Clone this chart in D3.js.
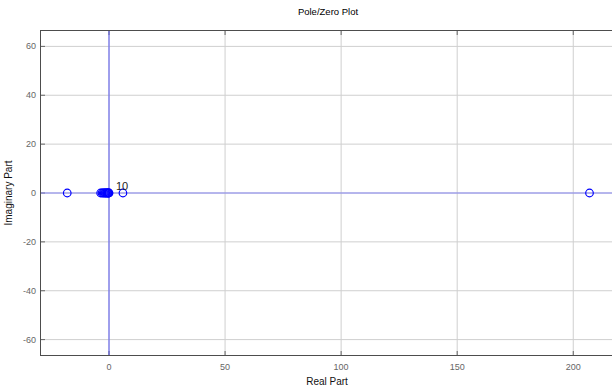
<!DOCTYPE html>
<html>
<head>
<meta charset="utf-8">
<script src="https://cdn.jsdelivr.net/npm/d3@7"></script>
<style>
  html, body { margin: 0; padding: 0; background: #fff; }
  svg { display: block; font-family: "Liberation Sans", Arial, sans-serif; }
</style>
</head>
<body>
<svg id="chart" width="612" height="388"></svg>
<script>
// Zero locations (real part; all lie on the real axis)
const zeroReal = [-18, -3.6, -3.0, -2.5, -2.1, -1.7, -1.4, -1.1, -0.8, -0.5, -0.3, -0.1, 0, 6, 207];
const zeroImag = [0, 0, 0, 0, 0, 0, 0, 0, 0, 0, 0, 0, 0, 0, 0];
// Multiplicity annotation at the origin
const multLabel = { re: 0, im: 0, text: "10" };
const xTicks = [0, 50, 100, 150, 200];
const yTicks = [-60, -40, -20, 0, 20, 40, 60];

const svg = d3.select("#chart");
const L = 41, T = 31, R = 615.5, B = 355;

const x = d3.scaleLinear().domain([-29.3, 218.2]).range([L, R]);
const y = d3.scaleLinear().domain([-66.3, 66.3]).range([B, T]);

svg.append("clipPath").attr("id", "plotclip")
  .append("rect").attr("x", L).attr("y", T).attr("width", R - L).attr("height", B - T);

// Grid
const grid = svg.append("g").attr("clip-path", "url(#plotclip)");
grid.selectAll("line.gx").data(xTicks).join("line")
  .attr("x1", d => x(d)).attr("x2", d => x(d)).attr("y1", T).attr("y2", B)
  .attr("stroke", "#cfcfcf").attr("stroke-width", 1);
grid.selectAll("line.gy").data(yTicks).join("line")
  .attr("y1", d => y(d)).attr("y2", d => y(d)).attr("x1", L).attr("x2", R)
  .attr("stroke", "#cfcfcf").attr("stroke-width", 1);

// Axis ticks (inward) and labels
const tickLen = 4;
const axes = svg.append("g");
axes.selectAll("line.tb").data(xTicks).join("line")
  .attr("x1", d => x(d)).attr("x2", d => x(d)).attr("y1", B).attr("y2", B - tickLen)
  .attr("stroke", "#666");
axes.selectAll("line.tt").data(xTicks).join("line")
  .attr("x1", d => x(d)).attr("x2", d => x(d)).attr("y1", T).attr("y2", T + tickLen)
  .attr("stroke", "#666");
axes.selectAll("line.tl").data(yTicks).join("line")
  .attr("y1", d => y(d)).attr("y2", d => y(d)).attr("x1", L).attr("x2", L + tickLen)
  .attr("stroke", "#666");
axes.selectAll("text.xl").data(xTicks).join("text")
  .attr("x", d => x(d)).attr("y", B + 15).attr("text-anchor", "middle")
  .attr("font-size", 9).attr("fill", "#666").text(d => d);
axes.selectAll("text.yl").data(yTicks).join("text")
  .attr("x", L - 5).attr("y", d => y(d) + 3).attr("text-anchor", "end")
  .attr("font-size", 9).attr("fill", "#666").text(d => d);

// Real and imaginary axis lines
const plot = svg.append("g").attr("clip-path", "url(#plotclip)");
plot.append("line").attr("x1", L).attr("x2", R).attr("y1", y(0)).attr("y2", y(0))
  .attr("stroke", "#8484f2").attr("stroke-width", 1);
plot.append("line").attr("x1", x(0)).attr("x2", x(0)).attr("y1", T).attr("y2", B)
  .attr("stroke", "#5656f2").attr("stroke-width", 1);

// Zeros as open circles
plot.selectAll("circle.z").data(zeroReal.map((r, i) => [r, zeroImag[i]])).join("circle")
  .attr("cx", d => x(d[0])).attr("cy", d => y(d[1])).attr("r", 3.8)
  .attr("fill", "none").attr("stroke", "#0000ff").attr("stroke-width", 1.2);

plot.append("text").attr("x", x(multLabel.re) + 7).attr("y", y(multLabel.im) - 3)
  .attr("font-size", 11).attr("fill", "#222").text(multLabel.text);

// Box
svg.append("rect").attr("x", L - 0.5).attr("y", T - 0.5).attr("width", R - L + 1).attr("height", B - T + 1)
  .attr("fill", "none").attr("stroke", "#4d4d4d").attr("stroke-width", 1);

// Titles
svg.append("text").attr("x", 328).attr("y", 15).attr("text-anchor", "middle")
  .attr("font-size", 9.5).attr("fill", "#000").text("Pole/Zero Plot");
svg.append("text").attr("x", 327).attr("y", 385).attr("text-anchor", "middle")
  .attr("font-size", 10).attr("fill", "#111").text("Real Part");
svg.append("text").attr("transform", `translate(12,${(T + B) / 2}) rotate(-90)`)
  .attr("text-anchor", "middle").attr("font-size", 10).attr("fill", "#111").text("Imaginary Part");
</script>
</body>
</html>
